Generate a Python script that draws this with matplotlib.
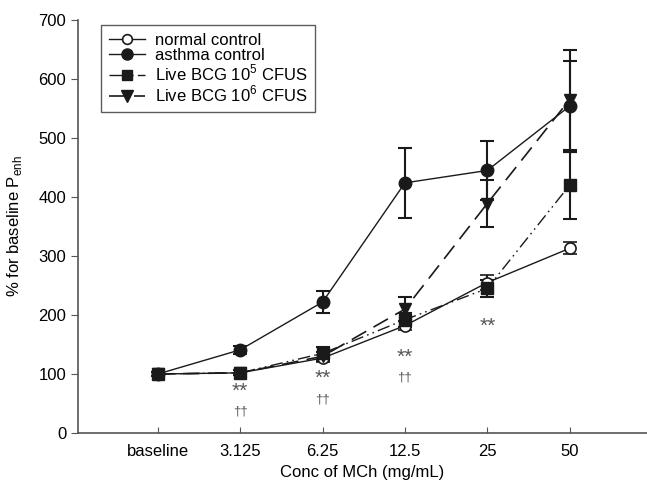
import matplotlib
matplotlib.use("Agg")
import matplotlib.pyplot as plt
from matplotlib.lines import Line2D

plt.rcParams['font.family'] = ['Liberation Sans Narrow', 'Liberation Sans', 'DejaVu Sans']

# -------- DATA --------
doses = ["baseline", "3.125", "6.25", "12.5", "25", "50"]

normal = [100, 102, 127, 182, 255, 313]
normal_err = [3, 4, 6, 8, 12, 10]

asthma = [100, 141, 222, 424, 445, 554]
asthma_err = [4, 7, 19, 59, 50, 77]

bcg5 = [100, 102, 135, 192, 245, 420]
bcg5_err = [3, 4, 10, 12, 15, 57]

bcg6 = [100, 102, 130, 210, 389, 565]
bcg6_err = [3, 4, 8, 20, 40, 85]

stars_pos = [1, 2, 3, 4]
stars_y = [70, 92, 128, 180]
dagger_pos = [1, 2, 3]
dagger_y = [36, 56, 94]

labels = ['normal control', 'asthma control',
          r'Live BCG 10$^{\mathregular{5}}$ CFUS', r'Live BCG 10$^{\mathregular{6}}$ CFUS']

x = list(range(len(doses)))

# -------- PLOT --------
fig = plt.figure(figsize=(6.47, 4.92), dpi=100)
ax = fig.add_axes([0.1206, 0.1199, 0.8794, 0.8394])

k = '#1a1a1a'
ekw = dict(capsize=5, elinewidth=1.5, capthick=1.5, ecolor=k)
dashdot = (0, (9, 3, 1.2, 3, 1.2, 3))
dash = (0, (10, 5))

ax.errorbar(x, normal, yerr=normal_err, color=k, lw=1.0, marker='o',
            ms=8, mfc='white', mec=k, mew=1.2, zorder=3, **ekw)
ax.errorbar(x, asthma, yerr=asthma_err, color=k, lw=1.0, marker='o',
            ms=9, mfc=k, mec=k, zorder=3, **ekw)
ax.errorbar(x, bcg5, yerr=bcg5_err, color=k, lw=1.0, marker='s',
            ms=8, mfc=k, mec=k, ls=dashdot, zorder=3, **ekw)
ax.errorbar(x, bcg6, yerr=bcg6_err, color=k, lw=1.2, marker='v',
            ms=9, mfc=k, mec=k, ls=dash, zorder=3, **ekw)

for p, yv in zip(stars_pos, stars_y):
    ax.text(p, yv, "**", ha='center', va='center', fontsize=15, color='#555555')
for p, yv in zip(dagger_pos, dagger_y):
    ax.text(p, yv, "\u2020\u2020", ha='center', va='center', fontsize=9.5, color='#555555')

ax.set_xlim(-0.97, 5.94)
ax.set_ylim(0, 700)
ax.set_xticks(x)
ax.set_xticklabels(doses)
ax.set_yticks(range(0, 701, 100))
ax.tick_params(axis='x', direction='in', length=4, color='#555555', labelsize=12, pad=8)
ax.tick_params(axis='y', direction='out', length=5, color='#555555', labelsize=12)
for s in ['top', 'right']:
    ax.spines[s].set_visible(False)
for s in ['left', 'bottom']:
    ax.spines[s].set_color('#555555')
    ax.spines[s].set_linewidth(1.2)

ax.set_xlabel("Conc of MCh (mg/mL)", fontsize=12, labelpad=4)
ax.set_ylabel(r"% for baseline P$_{\mathregular{enh}}$", fontsize=12, labelpad=10)

handles = [
    Line2D([], [], color=k, lw=1.0, marker='o', ms=7, mfc='white', mec=k, mew=1.2),
    Line2D([], [], color=k, lw=1.0, marker='o', ms=8, mfc=k, mec=k),
    Line2D([], [], color=k, lw=1.0, marker='s', ms=7, mfc=k, mec=k, ls=dashdot),
    Line2D([], [], color=k, lw=1.2, marker='v', ms=8, mfc=k, mec=k, ls=dash),
]
leg = ax.legend(handles, labels, loc='upper left', bbox_to_anchor=(0.026, 1.008), fontsize=12,
                frameon=True, fancybox=False, edgecolor='#333333',
                handlelength=2.2, borderpad=0.45, labelspacing=0.02, handletextpad=0.6)
leg.get_frame().set_linewidth(1.0)

fig.savefig("out.png", dpi=100)
